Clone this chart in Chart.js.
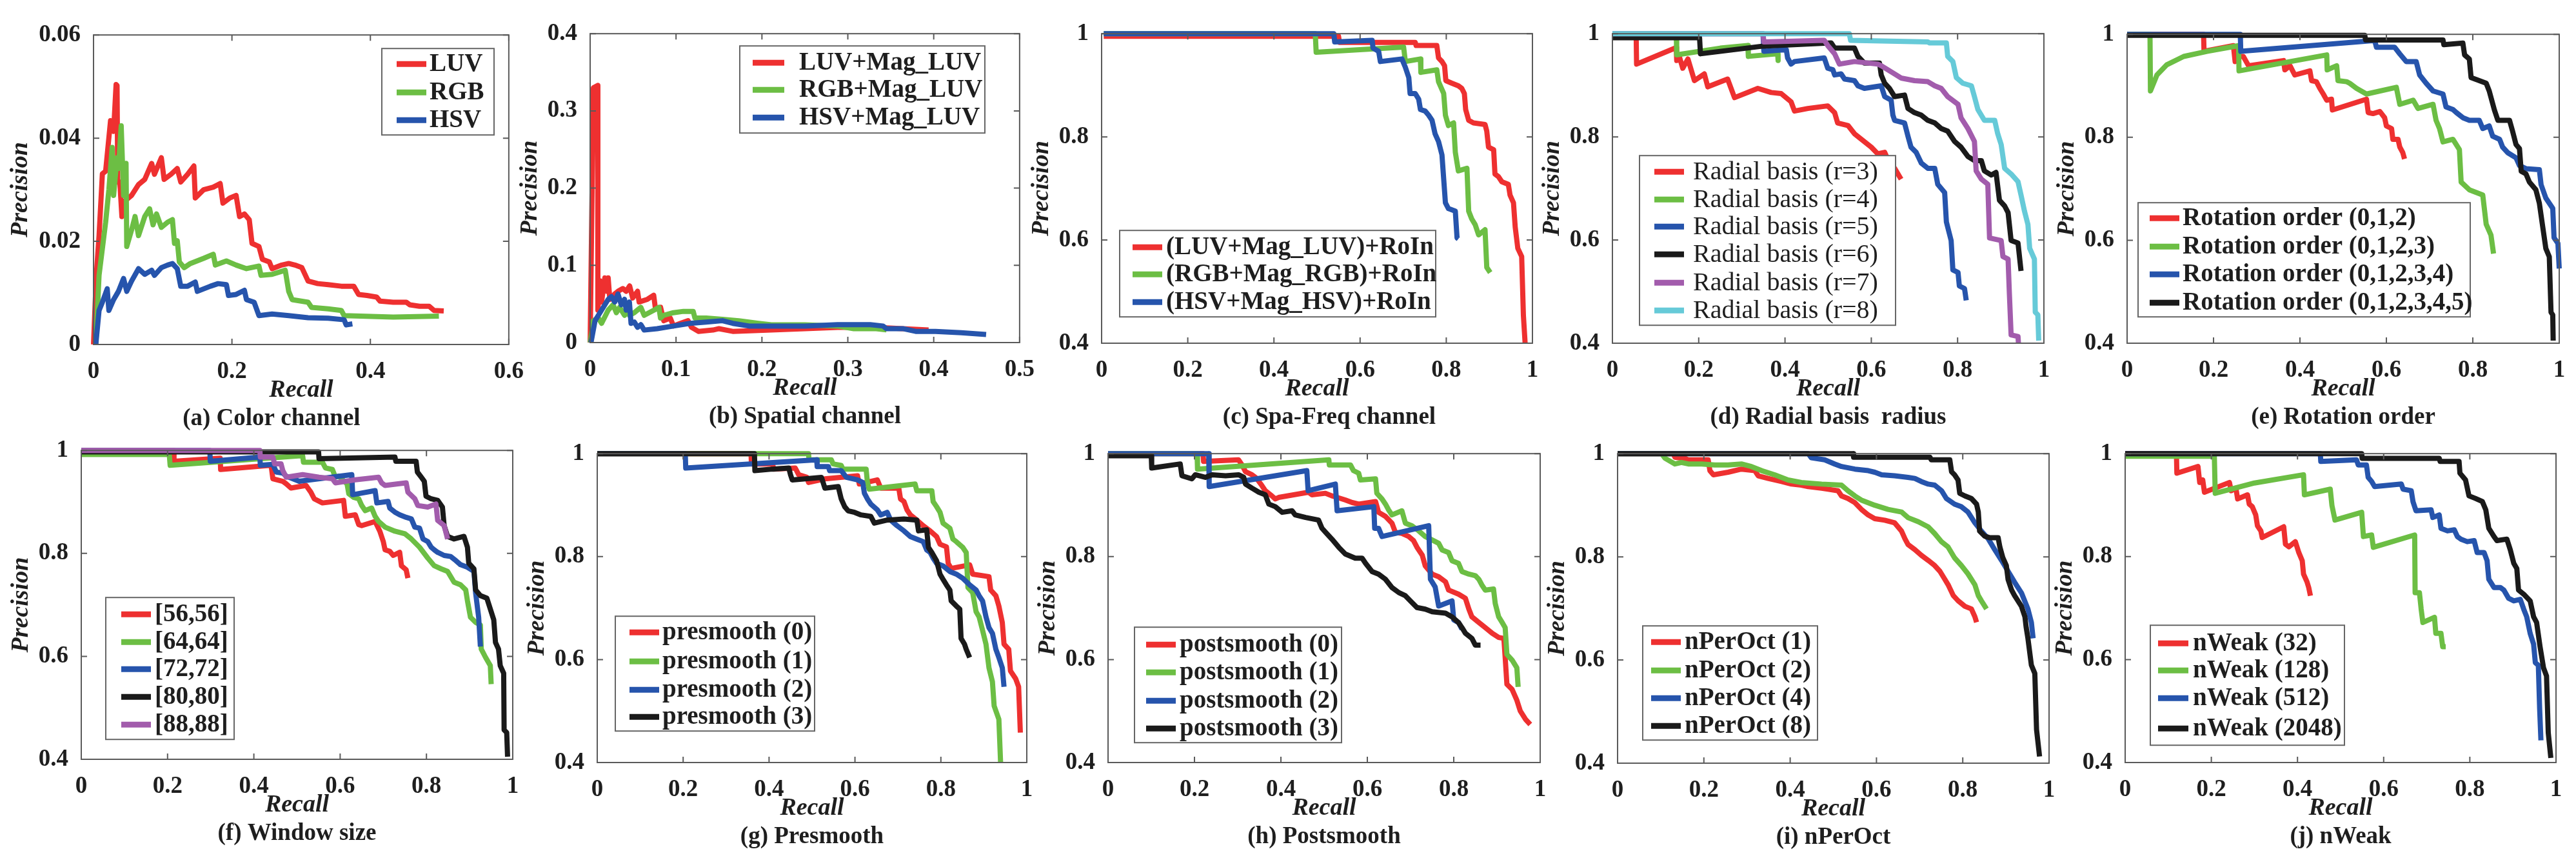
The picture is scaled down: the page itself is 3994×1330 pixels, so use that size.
<!DOCTYPE html>
<html>
<head>
<meta charset="utf-8">
<script src="https://cdn.jsdelivr.net/npm/chart.js@4.4.1/dist/chart.umd.min.js"></script>
<style>
  html, body { margin: 0; padding: 0; background: #fff; }
  #page { position: relative; width: 3994px; height: 1330px; overflow: hidden; background: #fff; }
  #page canvas { position: absolute; }
</style>
</head>
<body>
<div id="page"></div>
<script>
/* ========= 1.  DATA  ([recall, precision] pairs) ========= */

/* tick values */
const xTicksColor   = [0, 0.2, 0.4, 0.6];
const yTicksColor   = [0, 0.02, 0.04, 0.06];
const xTicksSpatial = [0, 0.1, 0.2, 0.3, 0.4, 0.5];
const yTicksSpatial = [0, 0.1, 0.2, 0.3, 0.4];
const xTicksUnit    = [0, 0.2, 0.4, 0.6, 0.8, 1];
const yTicksUnit    = [0.4, 0.6, 0.8, 1];

/* (a) colour channel */
const namesColor = ['LUV', 'RGB', 'HSV'];
const colorLUV = [[0,0],[0.004,0.0134],[0.008,0.0211],[0.0128,0.0331],[0.0175,0.0336],[0.0246,0.0434],[0.029,0.0413],[0.0326,0.0504],[0.034,0.0502],[0.035,0.0315],[0.038,0.0315],[0.041,0.0248],[0.046,0.0279],[0.055,0.0289],[0.065,0.031],[0.074,0.032],[0.084,0.0351],[0.088,0.033],[0.098,0.0362],[0.102,0.032],[0.112,0.033],[0.121,0.0341],[0.126,0.0315],[0.136,0.033],[0.145,0.0346],[0.147,0.0284],[0.159,0.030],[0.173,0.0305],[0.183,0.0312],[0.187,0.0274],[0.197,0.0284],[0.206,0.0289],[0.211,0.0248],[0.218,0.0253],[0.225,0.0242],[0.229,0.0196],[0.239,0.019],[0.244,0.0165],[0.254,0.016],[0.258,0.0147],[0.272,0.0154],[0.282,0.0157],[0.291,0.0154],[0.301,0.0149],[0.310,0.0123],[0.324,0.0118],[0.339,0.0116],[0.358,0.0113],[0.376,0.0113],[0.383,0.0097],[0.395,0.0095],[0.409,0.0092],[0.414,0.0084],[0.433,0.0082],[0.452,0.0082],[0.457,0.0077],[0.471,0.0074],[0.485,0.0074],[0.492,0.0066],[0.506,0.0065]];
const colorRGB = [[0.0033,0],[0.008,0.0134],[0.0175,0.0237],[0.0222,0.030],[0.0269,0.0382],[0.029,0.0289],[0.034,0.0362],[0.036,0.0341],[0.040,0.0424],[0.0434,0.0289],[0.047,0.0351],[0.048,0.019],[0.055,0.0222],[0.060,0.0248],[0.065,0.0211],[0.074,0.0248],[0.081,0.0263],[0.086,0.0232],[0.091,0.0253],[0.098,0.0227],[0.107,0.0237],[0.114,0.0242],[0.117,0.0196],[0.121,0.0201],[0.124,0.016],[0.131,0.0149],[0.140,0.0157],[0.159,0.0167],[0.173,0.0175],[0.176,0.0154],[0.192,0.0162],[0.206,0.0154],[0.221,0.0147],[0.239,0.0152],[0.242,0.0134],[0.258,0.0136],[0.277,0.0144],[0.282,0.0103],[0.287,0.0087],[0.310,0.0082],[0.315,0.0072],[0.339,0.0069],[0.358,0.0066],[0.362,0.0056],[0.386,0.0055],[0.433,0.0053],[0.499,0.0055]];
const colorHSV = [[0.0033,0],[0.008,0.0066],[0.0128,0.0082],[0.0198,0.0108],[0.0222,0.0066],[0.029,0.0087],[0.036,0.0103],[0.0434,0.0128],[0.048,0.0103],[0.055,0.0123],[0.065,0.0147],[0.074,0.0136],[0.084,0.0144],[0.088,0.0134],[0.098,0.0149],[0.107,0.0154],[0.114,0.0157],[0.121,0.0147],[0.126,0.0113],[0.136,0.0113],[0.147,0.0121],[0.150,0.0103],[0.169,0.0113],[0.180,0.0118],[0.192,0.0116],[0.195,0.0095],[0.206,0.0097],[0.218,0.0105],[0.221,0.0087],[0.232,0.0082],[0.239,0.0056],[0.258,0.0059],[0.282,0.0056],[0.310,0.0052],[0.339,0.0051],[0.362,0.0048],[0.365,0.0038],[0.374,0.004]];

/* (b) spatial channel */
const namesSpatial = ['LUV+Mag_LUV', 'RGB+Mag_LUV', 'HSV+Mag_LUV'];
const spatialLUV = [[0,0],[0.0038,0.33],[0.0088,0.333],[0.009,0.042],[0.0114,0.080],[0.0133,0.0525],[0.0171,0.0837],[0.0198,0.0664],[0.021,0.0837],[0.0229,0.056],[0.0286,0.063],[0.0324,0.0664],[0.038,0.070],[0.042,0.0664],[0.046,0.0733],[0.0495,0.0577],[0.0552,0.0664],[0.057,0.0525],[0.0667,0.056],[0.074,0.0612],[0.076,0.044],[0.082,0.0456],[0.0857,0.0283],[0.0933,0.0318],[0.097,0.0214],[0.105,0.0249],[0.114,0.0283],[0.118,0.0197],[0.126,0.0145],[0.143,0.0162],[0.150,0.018],[0.166,0.0145],[0.211,0.0162],[0.25,0.018],[0.288,0.0197],[0.326,0.0197],[0.345,0.019],[0.394,0.0162]];
const spatialRGB = [[0,0],[0.0038,0.0283],[0.0095,0.0318],[0.0133,0.0249],[0.021,0.042],[0.0267,0.049],[0.0305,0.0387],[0.0343,0.0456],[0.04,0.0353],[0.0438,0.042],[0.0457,0.0353],[0.0514,0.0387],[0.059,0.0456],[0.0629,0.0353],[0.0743,0.042],[0.08,0.0456],[0.0819,0.0318],[0.0857,0.0353],[0.097,0.0387],[0.1086,0.0404],[0.12,0.0404],[0.122,0.0318],[0.135,0.0318],[0.154,0.030],[0.173,0.0283],[0.196,0.0249],[0.211,0.023],[0.25,0.023],[0.288,0.0214],[0.307,0.018],[0.333,0.018],[0.345,0.0165]];
const spatialHSV = [[0.001,0],[0.0057,0.0283],[0.0133,0.042],[0.021,0.056],[0.0248,0.0595],[0.0286,0.0525],[0.0324,0.063],[0.0362,0.049],[0.04,0.056],[0.042,0.042],[0.0457,0.0525],[0.0476,0.0249],[0.0514,0.0266],[0.0552,0.0197],[0.059,0.0232],[0.0629,0.0162],[0.078,0.018],[0.097,0.0214],[0.116,0.0249],[0.135,0.0266],[0.154,0.0283],[0.166,0.0249],[0.185,0.0214],[0.211,0.0214],[0.25,0.0214],[0.288,0.0232],[0.326,0.0232],[0.341,0.0214],[0.345,0.018],[0.364,0.018],[0.379,0.0145],[0.402,0.0145],[0.432,0.0128],[0.461,0.0104]];

/* (c) spa-freq channel */
const namesSpaFreq = ['(LUV+Mag_LUV)+RoIn', '(RGB+Mag_RGB)+RoIn', '(HSV+Mag_HSV)+RoIn'];
const spaFreqLUV = [[0.005,0.995],[0.55,0.995],[0.552,0.983],[0.728,0.983],[0.73,0.977],[0.778,0.977],[0.782,0.953],[0.790,0.946],[0.796,0.938],[0.799,0.909],[0.813,0.904],[0.828,0.899],[0.836,0.894],[0.842,0.884],[0.845,0.853],[0.852,0.832],[0.863,0.827],[0.890,0.824],[0.894,0.811],[0.898,0.780],[0.910,0.775],[0.913,0.728],[0.921,0.723],[0.929,0.713],[0.944,0.708],[0.948,0.687],[0.956,0.672],[0.960,0.625],[0.966,0.584],[0.975,0.568],[0.979,0.454],[0.983,0.40]];
const spaFreqRGB = [[0.005,1],[0.496,1],[0.498,0.964],[0.701,0.974],[0.705,0.946],[0.740,0.951],[0.741,0.925],[0.778,0.930],[0.782,0.907],[0.794,0.884],[0.798,0.842],[0.805,0.822],[0.817,0.827],[0.821,0.770],[0.828,0.734],[0.848,0.739],[0.852,0.656],[0.859,0.641],[0.867,0.630],[0.875,0.610],[0.890,0.620],[0.894,0.547],[0.902,0.537]];
const spaFreqHSV = [[0.005,1],[0.539,1],[0.541,0.984],[0.628,0.987],[0.630,0.972],[0.643,0.966],[0.647,0.946],[0.697,0.951],[0.705,0.935],[0.713,0.915],[0.716,0.884],[0.728,0.884],[0.736,0.873],[0.740,0.853],[0.751,0.85],[0.759,0.842],[0.767,0.832],[0.774,0.806],[0.782,0.791],[0.790,0.765],[0.798,0.672],[0.805,0.661],[0.821,0.656],[0.825,0.604],[0.828,0.602]];

/* (d) radial basis radius */
const namesRadius = ['Radial basis (r=3)', 'Radial basis (r=4)', 'Radial basis (r=5)', 'Radial basis (r=6)', 'Radial basis (r=7)', 'Radial basis (r=8)'];
const radius3 = [[0,1],[0.055,1],[0.056,0.941],[0.148,0.973],[0.149,0.948],[0.155,0.956],[0.163,0.933],[0.175,0.951],[0.190,0.909],[0.213,0.922],[0.221,0.897],[0.267,0.912],[0.283,0.876],[0.337,0.894],[0.368,0.886],[0.391,0.884],[0.414,0.868],[0.422,0.85],[0.453,0.855],[0.499,0.86],[0.515,0.847],[0.522,0.827],[0.546,0.822],[0.561,0.806],[0.576,0.796],[0.600,0.780],[0.615,0.767],[0.631,0.770],[0.642,0.749],[0.654,0.739],[0.669,0.718]];
const radius4 = [[0,1],[0.148,1],[0.149,0.959],[0.25,0.972],[0.314,0.977],[0.315,0.956],[0.383,0.961],[0.384,0.948]];
const radius5 = [[0,1],[0.349,1],[0.351,0.966],[0.403,0.969],[0.406,0.953],[0.414,0.941],[0.422,0.946],[0.491,0.953],[0.499,0.933],[0.511,0.930],[0.515,0.920],[0.530,0.922],[0.538,0.912],[0.561,0.909],[0.569,0.899],[0.584,0.894],[0.623,0.899],[0.631,0.878],[0.646,0.871],[0.650,0.842],[0.654,0.832],[0.677,0.827],[0.685,0.801],[0.692,0.78],[0.704,0.770],[0.716,0.749],[0.731,0.739],[0.747,0.739],[0.754,0.708],[0.770,0.692],[0.774,0.635],[0.785,0.599],[0.789,0.542],[0.801,0.537],[0.804,0.511],[0.816,0.506],[0.82,0.483]];
const radius6 = [[0,0.992],[0.202,0.992],[0.204,0.961],[0.35,0.976],[0.507,0.982],[0.515,0.972],[0.561,0.972],[0.569,0.956],[0.584,0.943],[0.619,0.943],[0.623,0.920],[0.631,0.904],[0.642,0.894],[0.654,0.878],[0.677,0.881],[0.685,0.855],[0.700,0.847],[0.716,0.842],[0.731,0.832],[0.747,0.827],[0.762,0.816],[0.777,0.811],[0.793,0.791],[0.808,0.780],[0.824,0.762],[0.839,0.754],[0.855,0.754],[0.862,0.734],[0.878,0.726],[0.889,0.731],[0.897,0.677],[0.909,0.666],[0.917,0.653],[0.924,0.599],[0.940,0.594],[0.947,0.540]];
const radius7 = [[0,1],[0.349,1],[0.351,0.984],[0.491,0.987],[0.499,0.977],[0.515,0.961],[0.526,0.941],[0.561,0.946],[0.615,0.941],[0.623,0.938],[0.654,0.922],[0.669,0.914],[0.700,0.909],[0.731,0.907],[0.747,0.899],[0.762,0.894],[0.777,0.878],[0.801,0.863],[0.808,0.837],[0.824,0.816],[0.839,0.791],[0.843,0.734],[0.855,0.718],[0.870,0.708],[0.874,0.604],[0.901,0.599],[0.905,0.568],[0.917,0.563],[0.920,0.496],[0.924,0.416],[0.940,0.413],[0.941,0.40]];
const radius8 = [[0,1],[0.549,1],[0.552,0.987],[0.731,0.984],[0.735,0.982],[0.774,0.982],[0.777,0.956],[0.789,0.946],[0.797,0.915],[0.812,0.904],[0.832,0.899],[0.839,0.878],[0.847,0.853],[0.862,0.832],[0.886,0.832],[0.893,0.806],[0.901,0.785],[0.909,0.739],[0.924,0.728],[0.940,0.713],[0.947,0.687],[0.955,0.656],[0.963,0.630],[0.967,0.584],[0.978,0.563],[0.980,0.46],[0.986,0.455],[0.988,0.405]];

/* (e) rotation order */
const namesRotation = ['Rotation order (0,1,2)', 'Rotation order (0,1,2,3)', 'Rotation order (0,1,2,3,4)', 'Rotation order (0,1,2,3,4,5)'];
const rotation2 = [[0,1],[0.177,1],[0.178,0.967],[0.246,0.978],[0.25,0.947],[0.262,0.957],[0.269,0.957],[0.281,0.939],[0.362,0.949],[0.365,0.931],[0.377,0.939],[0.388,0.921],[0.423,0.929],[0.427,0.910],[0.438,0.908],[0.446,0.895],[0.454,0.884],[0.462,0.872],[0.473,0.874],[0.475,0.853],[0.554,0.874],[0.558,0.848],[0.569,0.846],[0.585,0.850],[0.596,0.838],[0.600,0.822],[0.612,0.817],[0.615,0.796],[0.627,0.796],[0.631,0.781],[0.638,0.770],[0.642,0.758]];
const rotation3 = [[0,1],[0.053,1],[0.054,0.890],[0.069,0.921],[0.092,0.941],[0.131,0.957],[0.185,0.967],[0.258,0.978],[0.259,0.929],[0.462,0.960],[0.463,0.931],[0.485,0.939],[0.488,0.910],[0.508,0.908],[0.515,0.905],[0.531,0.895],[0.554,0.884],[0.623,0.897],[0.631,0.864],[0.662,0.872],[0.673,0.856],[0.708,0.864],[0.715,0.833],[0.723,0.817],[0.731,0.791],[0.754,0.796],[0.769,0.776],[0.773,0.713],[0.792,0.698],[0.823,0.688],[0.831,0.631],[0.842,0.610],[0.848,0.574]];
const rotation4 = [[0,1],[0.262,1],[0.263,0.967],[0.573,0.988],[0.577,0.975],[0.619,0.975],[0.631,0.962],[0.646,0.947],[0.669,0.947],[0.677,0.921],[0.692,0.905],[0.708,0.890],[0.731,0.884],[0.738,0.859],[0.754,0.854],[0.762,0.848],[0.777,0.838],[0.792,0.833],[0.815,0.833],[0.823,0.817],[0.838,0.822],[0.846,0.802],[0.862,0.796],[0.869,0.781],[0.881,0.770],[0.9,0.760],[0.908,0.745],[0.923,0.739],[0.954,0.737],[0.958,0.708],[0.969,0.682],[0.985,0.662],[0.988,0.605],[0.997,0.594],[1.0,0.545]];
const rotation5 = [[0,0.998],[0.55,0.998],[0.552,0.989],[0.731,0.989],[0.733,0.980],[0.777,0.983],[0.781,0.960],[0.792,0.952],[0.796,0.916],[0.812,0.911],[0.831,0.905],[0.838,0.890],[0.85,0.853],[0.858,0.833],[0.885,0.833],[0.892,0.812],[0.9,0.786],[0.908,0.778],[0.912,0.734],[0.923,0.729],[0.931,0.713],[0.946,0.698],[0.954,0.672],[0.962,0.625],[0.969,0.584],[0.977,0.568],[0.981,0.460],[0.985,0.455],[0.986,0.405]];

/* (f) window size */
const namesWindow = ['[56,56]', '[64,64]', '[72,72]', '[80,80]', '[88,88]'];
const window56 = [[0,1],[0.214,1],[0.215,0.979],[0.322,0.985],[0.323,0.963],[0.440,0.971],[0.444,0.945],[0.467,0.940],[0.475,0.935],[0.486,0.927],[0.521,0.932],[0.532,0.919],[0.540,0.906],[0.559,0.898],[0.608,0.903],[0.612,0.872],[0.635,0.875],[0.643,0.856],[0.650,0.854],[0.681,0.862],[0.692,0.843],[0.700,0.823],[0.704,0.807],[0.715,0.804],[0.723,0.796],[0.738,0.802],[0.742,0.776],[0.753,0.768],[0.757,0.752]];
const window64 = [[0,0.992],[0.204,0.992],[0.206,0.971],[0.513,0.990],[0.515,0.977],[0.559,0.977],[0.566,0.966],[0.582,0.963],[0.589,0.948],[0.597,0.950],[0.616,0.935],[0.620,0.916],[0.631,0.909],[0.643,0.906],[0.650,0.893],[0.658,0.883],[0.673,0.888],[0.681,0.872],[0.689,0.862],[0.704,0.851],[0.727,0.843],[0.750,0.838],[0.765,0.828],[0.784,0.812],[0.803,0.791],[0.818,0.776],[0.834,0.770],[0.849,0.765],[0.864,0.744],[0.879,0.739],[0.891,0.729],[0.895,0.708],[0.902,0.676],[0.914,0.666],[0.925,0.661],[0.927,0.614],[0.937,0.598],[0.948,0.582],[0.950,0.546]];
const window72 = [[0,1],[0.298,1],[0.299,0.979],[0.414,0.987],[0.415,0.971],[0.444,0.973],[0.452,0.958],[0.467,0.956],[0.475,0.950],[0.505,0.940],[0.627,0.953],[0.629,0.914],[0.681,0.922],[0.685,0.898],[0.711,0.901],[0.715,0.888],[0.727,0.880],[0.738,0.875],[0.753,0.870],[0.765,0.867],[0.773,0.851],[0.784,0.849],[0.792,0.828],[0.803,0.823],[0.811,0.812],[0.818,0.807],[0.826,0.802],[0.841,0.796],[0.856,0.794],[0.868,0.786],[0.879,0.778],[0.895,0.773],[0.910,0.765],[0.914,0.723],[0.921,0.676],[0.925,0.619]];
const window80 = [[0,0.997],[0.550,0.997],[0.551,0.984],[0.727,0.987],[0.729,0.979],[0.776,0.979],[0.779,0.958],[0.788,0.948],[0.795,0.940],[0.799,0.911],[0.811,0.906],[0.826,0.903],[0.837,0.890],[0.841,0.854],[0.849,0.833],[0.864,0.828],[0.887,0.833],[0.895,0.812],[0.898,0.781],[0.910,0.770],[0.914,0.729],[0.925,0.718],[0.940,0.713],[0.948,0.692],[0.956,0.671],[0.960,0.627],[0.967,0.614],[0.971,0.582],[0.979,0.567],[0.980,0.457],[0.986,0.452],[0.988,0.405]];
const window88 = [[0,1],[0.414,1],[0.415,0.987],[0.444,0.987],[0.448,0.974],[0.463,0.974],[0.467,0.961],[0.475,0.948],[0.513,0.953],[0.551,0.948],[0.582,0.945],[0.589,0.937],[0.635,0.943],[0.689,0.948],[0.696,0.937],[0.704,0.932],[0.734,0.935],[0.753,0.937],[0.757,0.919],[0.773,0.906],[0.780,0.893],[0.803,0.890],[0.822,0.896],[0.826,0.864],[0.841,0.854],[0.849,0.828]];

/* (g) presmooth */
const namesPre = ['presmooth (0)', 'presmooth (1)', 'presmooth (2)', 'presmooth (3)'];
const presmooth0 = [[0,1],[0.358,1],[0.359,0.980],[0.408,0.980],[0.411,0.970],[0.461,0.972],[0.469,0.959],[0.488,0.954],[0.492,0.944],[0.530,0.951],[0.606,0.957],[0.610,0.941],[0.652,0.949],[0.660,0.933],[0.702,0.933],[0.706,0.912],[0.714,0.907],[0.721,0.891],[0.729,0.881],[0.744,0.871],[0.759,0.860],[0.775,0.850],[0.790,0.839],[0.798,0.824],[0.813,0.819],[0.817,0.787],[0.824,0.777],[0.867,0.784],[0.874,0.766],[0.912,0.761],[0.916,0.735],[0.928,0.724],[0.935,0.704],[0.943,0.672],[0.947,0.630],[0.958,0.620],[0.962,0.578],[0.974,0.563],[0.981,0.547],[0.985,0.458]];
const presmooth1 = [[0,1],[0.492,1],[0.493,0.988],[0.545,0.988],[0.549,0.980],[0.568,0.977],[0.572,0.970],[0.626,0.970],[0.629,0.944],[0.633,0.931],[0.740,0.941],[0.744,0.928],[0.779,0.928],[0.782,0.907],[0.790,0.897],[0.798,0.886],[0.805,0.865],[0.821,0.855],[0.828,0.834],[0.836,0.829],[0.851,0.818],[0.859,0.808],[0.863,0.740],[0.874,0.730],[0.882,0.693],[0.889,0.683],[0.897,0.657],[0.905,0.630],[0.912,0.584],[0.920,0.557],[0.924,0.510],[0.935,0.484],[0.939,0.40]];
const presmooth2 = [[0,1],[0.205,1],[0.206,0.972],[0.511,0.988],[0.512,0.975],[0.538,0.975],[0.541,0.967],[0.568,0.967],[0.580,0.954],[0.606,0.949],[0.618,0.944],[0.622,0.923],[0.629,0.912],[0.637,0.902],[0.652,0.891],[0.660,0.881],[0.675,0.886],[0.683,0.871],[0.698,0.860],[0.714,0.850],[0.729,0.839],[0.744,0.834],[0.759,0.829],[0.767,0.813],[0.775,0.808],[0.782,0.797],[0.790,0.787],[0.805,0.782],[0.821,0.771],[0.836,0.766],[0.851,0.758],[0.867,0.745],[0.882,0.735],[0.889,0.724],[0.897,0.714],[0.905,0.683],[0.912,0.662],[0.920,0.651],[0.928,0.620],[0.935,0.604],[0.943,0.584],[0.947,0.547]];
const presmooth3 = [[0,1],[0.366,1],[0.367,0.967],[0.408,0.970],[0.446,0.972],[0.450,0.959],[0.454,0.949],[0.484,0.951],[0.522,0.954],[0.530,0.933],[0.561,0.936],[0.568,0.912],[0.576,0.897],[0.584,0.889],[0.599,0.886],[0.614,0.881],[0.637,0.878],[0.645,0.865],[0.675,0.871],[0.714,0.873],[0.744,0.871],[0.748,0.850],[0.767,0.852],[0.771,0.818],[0.779,0.808],[0.790,0.792],[0.798,0.766],[0.805,0.756],[0.813,0.745],[0.821,0.735],[0.824,0.714],[0.836,0.704],[0.844,0.698],[0.847,0.641],[0.855,0.630],[0.859,0.620],[0.867,0.604]];

/* (h) postsmooth */
const namesPost = ['postsmooth (0)', 'postsmooth (1)', 'postsmooth (2)', 'postsmooth (3)'];
const postsmooth0 = [[0,1],[0.220,1],[0.221,0.985],[0.302,0.988],[0.310,0.978],[0.318,0.965],[0.333,0.959],[0.341,0.954],[0.349,0.946],[0.356,0.938],[0.364,0.928],[0.379,0.918],[0.387,0.912],[0.395,0.915],[0.464,0.925],[0.472,0.920],[0.503,0.923],[0.518,0.918],[0.530,0.915],[0.549,0.910],[0.565,0.905],[0.580,0.902],[0.619,0.907],[0.626,0.886],[0.642,0.878],[0.657,0.865],[0.665,0.847],[0.680,0.845],[0.696,0.839],[0.707,0.831],[0.715,0.818],[0.727,0.803],[0.734,0.782],[0.750,0.766],[0.765,0.761],[0.781,0.751],[0.788,0.735],[0.811,0.727],[0.827,0.719],[0.835,0.698],[0.842,0.683],[0.858,0.672],[0.873,0.662],[0.889,0.651],[0.904,0.643],[0.916,0.641],[0.919,0.604],[0.923,0.552],[0.935,0.542],[0.946,0.521],[0.954,0.500],[0.966,0.484],[0.977,0.474]];
const postsmooth1 = [[0,1],[0.206,1],[0.207,0.970],[0.511,0.988],[0.512,0.978],[0.561,0.978],[0.568,0.967],[0.580,0.962],[0.584,0.949],[0.619,0.951],[0.622,0.923],[0.634,0.912],[0.642,0.902],[0.649,0.891],[0.657,0.881],[0.680,0.889],[0.688,0.865],[0.703,0.860],[0.719,0.850],[0.734,0.839],[0.746,0.834],[0.765,0.826],[0.773,0.813],[0.788,0.808],[0.796,0.792],[0.811,0.787],[0.819,0.771],[0.835,0.766],[0.850,0.763],[0.858,0.756],[0.865,0.745],[0.873,0.735],[0.892,0.737],[0.896,0.709],[0.904,0.683],[0.912,0.672],[0.919,0.662],[0.923,0.610],[0.935,0.599],[0.946,0.584],[0.949,0.547]];
const postsmooth2 = [[0,1],[0.233,1],[0.234,0.936],[0.460,0.967],[0.463,0.928],[0.526,0.941],[0.530,0.889],[0.615,0.897],[0.617,0.855],[0.626,0.855],[0.634,0.839],[0.742,0.860],[0.746,0.756],[0.757,0.741],[0.765,0.704],[0.796,0.714],[0.800,0.677],[0.811,0.672],[0.819,0.659]];
const postsmooth3 = [[0,0.996],[0.100,0.996],[0.101,0.972],[0.167,0.980],[0.171,0.957],[0.194,0.951],[0.202,0.959],[0.225,0.954],[0.241,0.959],[0.272,0.957],[0.302,0.959],[0.314,0.954],[0.318,0.941],[0.333,0.933],[0.349,0.925],[0.364,0.920],[0.372,0.902],[0.387,0.897],[0.403,0.886],[0.426,0.889],[0.433,0.881],[0.457,0.876],[0.487,0.871],[0.495,0.855],[0.507,0.844],[0.518,0.834],[0.534,0.818],[0.549,0.805],[0.572,0.797],[0.588,0.797],[0.596,0.787],[0.611,0.771],[0.626,0.766],[0.642,0.756],[0.657,0.740],[0.673,0.730],[0.688,0.724],[0.703,0.711],[0.715,0.701],[0.734,0.698],[0.750,0.693],[0.781,0.690],[0.796,0.683],[0.811,0.672],[0.819,0.662],[0.827,0.651],[0.842,0.641],[0.850,0.628],[0.862,0.628]];

/* (i) nPerOct */
const namesPerOct = ['nPerOct (1)', 'nPerOct (2)', 'nPerOct (4)', 'nPerOct (8)'];
const perOct1 = [[0,1],[0.129,1],[0.133,0.993],[0.141,0.992],[0.156,0.991],[0.164,0.988],[0.210,0.988],[0.214,0.967],[0.222,0.959],[0.256,0.964],[0.287,0.970],[0.318,0.967],[0.326,0.957],[0.349,0.952],[0.380,0.946],[0.403,0.941],[0.426,0.939],[0.442,0.936],[0.473,0.933],[0.488,0.931],[0.511,0.928],[0.519,0.918],[0.534,0.913],[0.550,0.905],[0.565,0.892],[0.581,0.881],[0.596,0.874],[0.619,0.871],[0.642,0.866],[0.658,0.850],[0.666,0.835],[0.673,0.824],[0.689,0.814],[0.704,0.803],[0.720,0.793],[0.735,0.783],[0.747,0.772],[0.758,0.757],[0.766,0.746],[0.778,0.725],[0.789,0.715],[0.805,0.704],[0.820,0.699],[0.828,0.684],[0.832,0.673]];
const perOct2 = [[0,1],[0.102,1],[0.110,0.991],[0.133,0.980],[0.148,0.983],[0.164,0.980],[0.195,0.980],[0.225,0.978],[0.256,0.978],[0.287,0.980],[0.310,0.975],[0.334,0.967],[0.364,0.959],[0.395,0.949],[0.426,0.944],[0.473,0.941],[0.519,0.939],[0.534,0.928],[0.550,0.918],[0.565,0.910],[0.596,0.900],[0.627,0.892],[0.658,0.887],[0.673,0.876],[0.697,0.868],[0.720,0.858],[0.735,0.845],[0.751,0.829],[0.766,0.819],[0.781,0.798],[0.797,0.783],[0.812,0.767],[0.828,0.746],[0.836,0.725],[0.843,0.715],[0.855,0.699]];
const perOct4 = [[0,1],[0.442,1],[0.449,0.992],[0.480,0.988],[0.503,0.980],[0.519,0.975],[0.550,0.970],[0.581,0.967],[0.596,0.964],[0.612,0.959],[0.642,0.957],[0.673,0.954],[0.689,0.952],[0.704,0.946],[0.720,0.941],[0.735,0.939],[0.751,0.928],[0.762,0.913],[0.781,0.902],[0.797,0.897],[0.812,0.887],[0.828,0.866],[0.843,0.850],[0.859,0.835],[0.874,0.814],[0.890,0.793],[0.905,0.772],[0.920,0.751],[0.936,0.730],[0.951,0.699],[0.959,0.673],[0.963,0.642]];
const perOct8 = [[0,1],[0.546,1],[0.547,0.993],[0.724,0.993],[0.727,0.988],[0.770,0.988],[0.774,0.965],[0.781,0.959],[0.789,0.949],[0.793,0.923],[0.805,0.918],[0.820,0.913],[0.832,0.902],[0.836,0.887],[0.839,0.850],[0.851,0.840],[0.863,0.837],[0.882,0.837],[0.886,0.819],[0.893,0.798],[0.901,0.783],[0.905,0.756],[0.913,0.736],[0.920,0.725],[0.936,0.704],[0.944,0.684],[0.947,0.663],[0.951,0.642],[0.959,0.590],[0.967,0.574],[0.971,0.465],[0.978,0.413]];

/* (j) nWeak */
const namesWeak = ['nWeak (32)', 'nWeak (128)', 'nWeak (512)', 'nWeak (2048)'];
const weak32 = [[0,1],[0.119,1],[0.120,0.962],[0.169,0.975],[0.173,0.944],[0.180,0.949],[0.184,0.925],[0.242,0.944],[0.246,0.928],[0.257,0.933],[0.261,0.912],[0.284,0.920],[0.288,0.902],[0.295,0.897],[0.303,0.881],[0.307,0.860],[0.315,0.850],[0.318,0.837],[0.368,0.858],[0.372,0.824],[0.380,0.819],[0.395,0.829],[0.403,0.808],[0.411,0.792],[0.414,0.766],[0.422,0.751],[0.426,0.740],[0.430,0.724]];
const weak128 = [[0,0.995],[0.207,0.995],[0.209,0.923],[0.30,0.943],[0.414,0.959],[0.416,0.920],[0.476,0.931],[0.480,0.899],[0.487,0.871],[0.549,0.886],[0.553,0.839],[0.572,0.842],[0.576,0.818],[0.672,0.842],[0.673,0.730],[0.683,0.730],[0.687,0.698],[0.691,0.672],[0.718,0.682],[0.721,0.651],[0.733,0.651],[0.737,0.625],[0.744,0.625]];
const weak512 = [[0,1],[0.453,1],[0.454,0.985],[0.537,0.988],[0.541,0.978],[0.560,0.978],[0.564,0.954],[0.572,0.946],[0.579,0.936],[0.641,0.941],[0.645,0.931],[0.664,0.928],[0.668,0.907],[0.675,0.889],[0.710,0.891],[0.714,0.876],[0.729,0.881],[0.733,0.855],[0.748,0.850],[0.764,0.852],[0.771,0.839],[0.779,0.834],[0.794,0.829],[0.810,0.831],[0.817,0.808],[0.833,0.808],[0.840,0.792],[0.844,0.756],[0.856,0.740],[0.871,0.740],[0.879,0.735],[0.890,0.719],[0.902,0.714],[0.917,0.717],[0.925,0.698],[0.932,0.683],[0.940,0.651],[0.948,0.630],[0.952,0.594],[0.959,0.589],[0.962,0.505],[0.965,0.443]];
const weak2048 = [[0,1],[0.549,1],[0.550,0.991],[0.729,0.991],[0.731,0.985],[0.775,0.985],[0.777,0.962],[0.790,0.949],[0.798,0.918],[0.813,0.913],[0.829,0.907],[0.837,0.891],[0.844,0.855],[0.856,0.839],[0.863,0.831],[0.886,0.834],[0.894,0.813],[0.902,0.787],[0.909,0.777],[0.913,0.735],[0.925,0.727],[0.940,0.714],[0.948,0.683],[0.955,0.672],[0.963,0.625],[0.971,0.584],[0.978,0.568],[0.982,0.458],[0.988,0.409]];

/* ========= 2.  STYLE  ================================================ */
const FONT  = '"Liberation Serif", "Times New Roman", serif';
const INK   = '#1e1e1e';
const RED = 'rgb(238,48,48)', GREEN = 'rgb(108,190,68)', BLUE = 'rgb(38,84,172)';
const BLACK = 'rgb(26,26,26)', PURPLE = 'rgb(162,92,172)', CYAN = 'rgb(102,202,216)';
const PAD_T = 30, PAD_R = 40, XAXIS_H = 94, CAP_H = 50;

/* plot-area rectangles (page px) and legend boxes (px inside plot area) */
const panels = [
  { caption:'(a) Color channel', capDx:-46, L:145, T:42, R:792, B:534, yw:140,
    xT:xTicksColor, yT:yTicksColor, names:namesColor, series:[colorLUV, colorRGB, colorHSV], colors:[RED, GREEN, BLUE],
    legend:{ x:447, y:21, w:174, h:134, l0:470, l1:516, tx:521, rows:[45,89,132] } },
  { caption:'(b) Spatial channel', L:915, T:40, R:1584, B:531, yw:120,
    xT:xTicksSpatial, yT:yTicksSpatial, names:namesSpatial, series:[spatialLUV, spatialRGB, spatialHSV], colors:[RED, GREEN, BLUE],
    legend:{ x:232, y:19, w:380, h:135, l0:252, l1:301, tx:324, rows:[45,87,130] } },
  { caption:'(c) Spa-Freq channel', capDx:19, L:1708, T:40, R:2376, B:532, yw:120,
    xT:xTicksUnit, yT:yTicksUnit, names:namesSpaFreq, series:[spaFreqLUV, spaFreqRGB, spaFreqHSV], colors:[RED, GREEN, BLUE],
    legend:{ x:28, y:305, w:490, h:134, l0:48, l1:94, tx:100, rows:[331,373,416] } },
  { caption:'(d) Radial basis  radius', L:2500, T:40, R:3169, B:532, yw:120,
    xT:xTicksUnit, yT:yTicksUnit, names:namesRadius, series:[radius3, radius4, radius5, radius6, radius7, radius8],
    colors:[RED, GREEN, BLUE, BLACK, PURPLE, CYAN],
    legend:{ x:42, y:189, w:397, h:263, l0:65, l1:111, tx:125, rows:[214,257,299,342,386,429], weight:'normal', size:40 } },
  { caption:'(e) Rotation order', L:3298, T:41, R:3968, B:532, yw:120,
    xT:xTicksUnit, yT:yTicksUnit, names:namesRotation, series:[rotation2, rotation3, rotation4, rotation5], colors:[RED, GREEN, BLUE, BLACK],
    legend:{ x:17, y:261, w:515, h:177, l0:35, l1:81, tx:86, rows:[285,329,372,416] } },
  { caption:'(f) Window size', L:126, T:686, R:795, B:1177, yw:120,
    xT:xTicksUnit, yT:yTicksUnit, names:namesWindow, series:[window56, window64, window72, window80, window88],
    colors:[RED, GREEN, BLUE, BLACK, PURPLE],
    legend:{ x:38, y:228, w:199, h:220, l0:62, l1:108, tx:114, rows:[254,297,339,382,425] } },
  { caption:'(g) Presmooth', L:926, T:691, R:1592, B:1182, yw:120,
    xT:xTicksUnit, yT:yTicksUnit, names:namesPre, series:[presmooth0, presmooth1, presmooth2, presmooth3], colors:[RED, GREEN, BLUE, BLACK],
    legend:{ x:28, y:252, w:309, h:178, l0:50, l1:96, tx:101, rows:[277,322,366,408] } },
  { caption:'(h) Postsmooth', L:1718, T:691, R:2388, B:1182, yw:120,
    xT:xTicksUnit, yT:yTicksUnit, names:namesPost, series:[postsmooth0, postsmooth1, postsmooth2, postsmooth3], colors:[RED, GREEN, BLUE, BLACK],
    legend:{ x:41, y:269, w:321, h:179, l0:59, l1:105, tx:111, rows:[296,339,383,426] } },
  { caption:'(i) nPerOct', L:2508, T:691, R:3177, B:1183, yw:120,
    xT:xTicksUnit, yT:yTicksUnit, names:namesPerOct, series:[perOct1, perOct2, perOct4, perOct8], colors:[RED, GREEN, BLUE, BLACK],
    legend:{ x:39, y:267, w:271, h:177, l0:52, l1:98, tx:104, rows:[292,336,379,422] } },
  { caption:'(j) nWeak', L:3295, T:691, R:3963, B:1182, yw:120,
    xT:xTicksUnit, yT:yTicksUnit, names:namesWeak, series:[weak32, weak128, weak512, weak2048], colors:[RED, GREEN, BLUE, BLACK],
    legend:{ x:39, y:266, w:301, h:186, l0:51, l1:98, tx:105, rows:[294,336,379,426] } }
];

/* ========= 3.  PLUGINS  ============================================== */
/* MATLAB-like box with inward ticks on all sides, plus the caption */
const framePlugin = {
  id: 'frame',
  afterDatasetsDraw(chart, args, o) {
    const { ctx, chartArea: a, scales } = chart;
    ctx.save();
    ctx.strokeStyle = '#5a5a5a';
    ctx.lineWidth = 2;
    ctx.strokeRect(a.left, a.top, a.right - a.left, a.bottom - a.top);
    ctx.beginPath();
    scales.x.ticks.forEach(t => {
      const px = scales.x.getPixelForValue(t.value);
      ctx.moveTo(px, a.bottom); ctx.lineTo(px, a.bottom - 9);
      ctx.moveTo(px, a.top);    ctx.lineTo(px, a.top + 9);
    });
    scales.y.ticks.forEach(t => {
      const py = scales.y.getPixelForValue(t.value);
      ctx.moveTo(a.left, py);  ctx.lineTo(a.left + 9, py);
      ctx.moveTo(a.right, py); ctx.lineTo(a.right - 9, py);
    });
    ctx.stroke();

    ctx.fillStyle = INK;
    ctx.font = `bold 37px ${FONT}`;
    ctx.textAlign = 'center';
    ctx.textBaseline = 'middle';
    ctx.fillText(o.caption, (a.left + a.right) / 2 + (o.dx || 0), a.bottom + 115);
    ctx.restore();
  }
};

/* boxed legend placed inside the plot area */
const boxLegendPlugin = {
  id: 'boxLegend',
  afterDatasetsDraw(chart, args, o) {
    const { ctx, chartArea: a } = chart;
    ctx.save();
    ctx.fillStyle = '#fff';
    ctx.fillRect(a.left + o.x, a.top + o.y, o.w, o.h);
    ctx.strokeStyle = '#666';
    ctx.lineWidth = 2;
    ctx.strokeRect(a.left + o.x, a.top + o.y, o.w, o.h);
    ctx.font = `${o.weight || 'bold'} ${o.size || 39}px ${FONT}`;
    ctx.textBaseline = 'middle';
    ctx.textAlign = 'left';
    chart.data.datasets.forEach((d, i) => {
      const y = a.top + o.rows[i];
      ctx.strokeStyle = d.borderColor;
      ctx.lineWidth = 9;
      ctx.beginPath();
      ctx.moveTo(a.left + o.l0, y);
      ctx.lineTo(a.left + o.l1, y);
      ctx.stroke();
      ctx.fillStyle = INK;
      ctx.fillText(d.label, a.left + o.tx, y + 1);
    });
    ctx.restore();
  }
};

/* ========= 4.  BUILD CHARTS  ========================================= */
const page = document.getElementById('page');

function makePanel (p) {
  const plotW = p.R - p.L, plotH = p.B - p.T;
  const cv = document.createElement('canvas');
  cv.width  = p.yw + plotW + PAD_R;
  cv.height = PAD_T + plotH + XAXIS_H + CAP_H;
  cv.style.left = (p.L - p.yw) + 'px';
  cv.style.top  = (p.T - PAD_T) + 'px';
  page.appendChild(cv);

  const n = p.series.length;
  new Chart(cv, {
    type: 'line',
    data: {
      datasets: p.series.map((s, i) => ({
        label: p.names[i],
        data: s.map(([x, y]) => ({ x, y })),
        borderColor: p.colors[i],
        borderWidth: 8,
        pointRadius: 0,
        tension: 0,
        fill: false,
        clip: 12,
        order: n - i,                 // later series drawn on top, like MATLAB
        borderJoinStyle: 'round'
      }))
    },
    options: {
      responsive: false,
      animation: false,
      devicePixelRatio: 1,
      layout: { padding: { top: PAD_T, right: PAD_R, bottom: CAP_H, left: 0 } },
      plugins: {
        legend: { display: false },
        tooltip: { enabled: false },
        frame: { caption: p.caption, dx: p.capDx || 0 },
        boxLegend: p.legend
      },
      scales: {
        x: {
          type: 'linear',
          min: p.xT[0], max: p.xT[p.xT.length - 1],
          grid: { display: false, drawTicks: false },
          border: { display: false },
          afterBuildTicks: s => { s.ticks = p.xT.map(v => ({ value: v })); },
          afterFit: s => { s.height = XAXIS_H; },
          ticks: { color: INK, padding: 20, maxRotation: 0, autoSkip: false,
                   font: { family: FONT, size: 37, weight: 'bold' }, callback: v => String(v) },
          title: { display: true, text: 'Recall', color: INK, padding: 0,
                   font: { family: FONT, size: 38, weight: 'bold', style: 'italic', lineHeight: 1.2 } }
        },
        y: {
          type: 'linear',
          min: p.yT[0], max: p.yT[p.yT.length - 1],
          grid: { display: false, drawTicks: false },
          border: { display: false },
          afterBuildTicks: s => { s.ticks = p.yT.map(v => ({ value: v })); },
          afterFit: s => { s.width = p.yw; },
          ticks: { color: INK, padding: 20, autoSkip: false,
                   font: { family: FONT, size: 37, weight: 'bold' }, callback: v => String(v) },
          title: { display: true, text: 'Precision', color: INK, padding: { top: 4, bottom: 0 },
                   font: { family: FONT, size: 38, weight: 'bold', style: 'italic', lineHeight: 1.2 } }
        }
      }
    },
    plugins: [framePlugin, boxLegendPlugin]
  });
}

panels.forEach(makePanel);
</script>
</body>
</html>
